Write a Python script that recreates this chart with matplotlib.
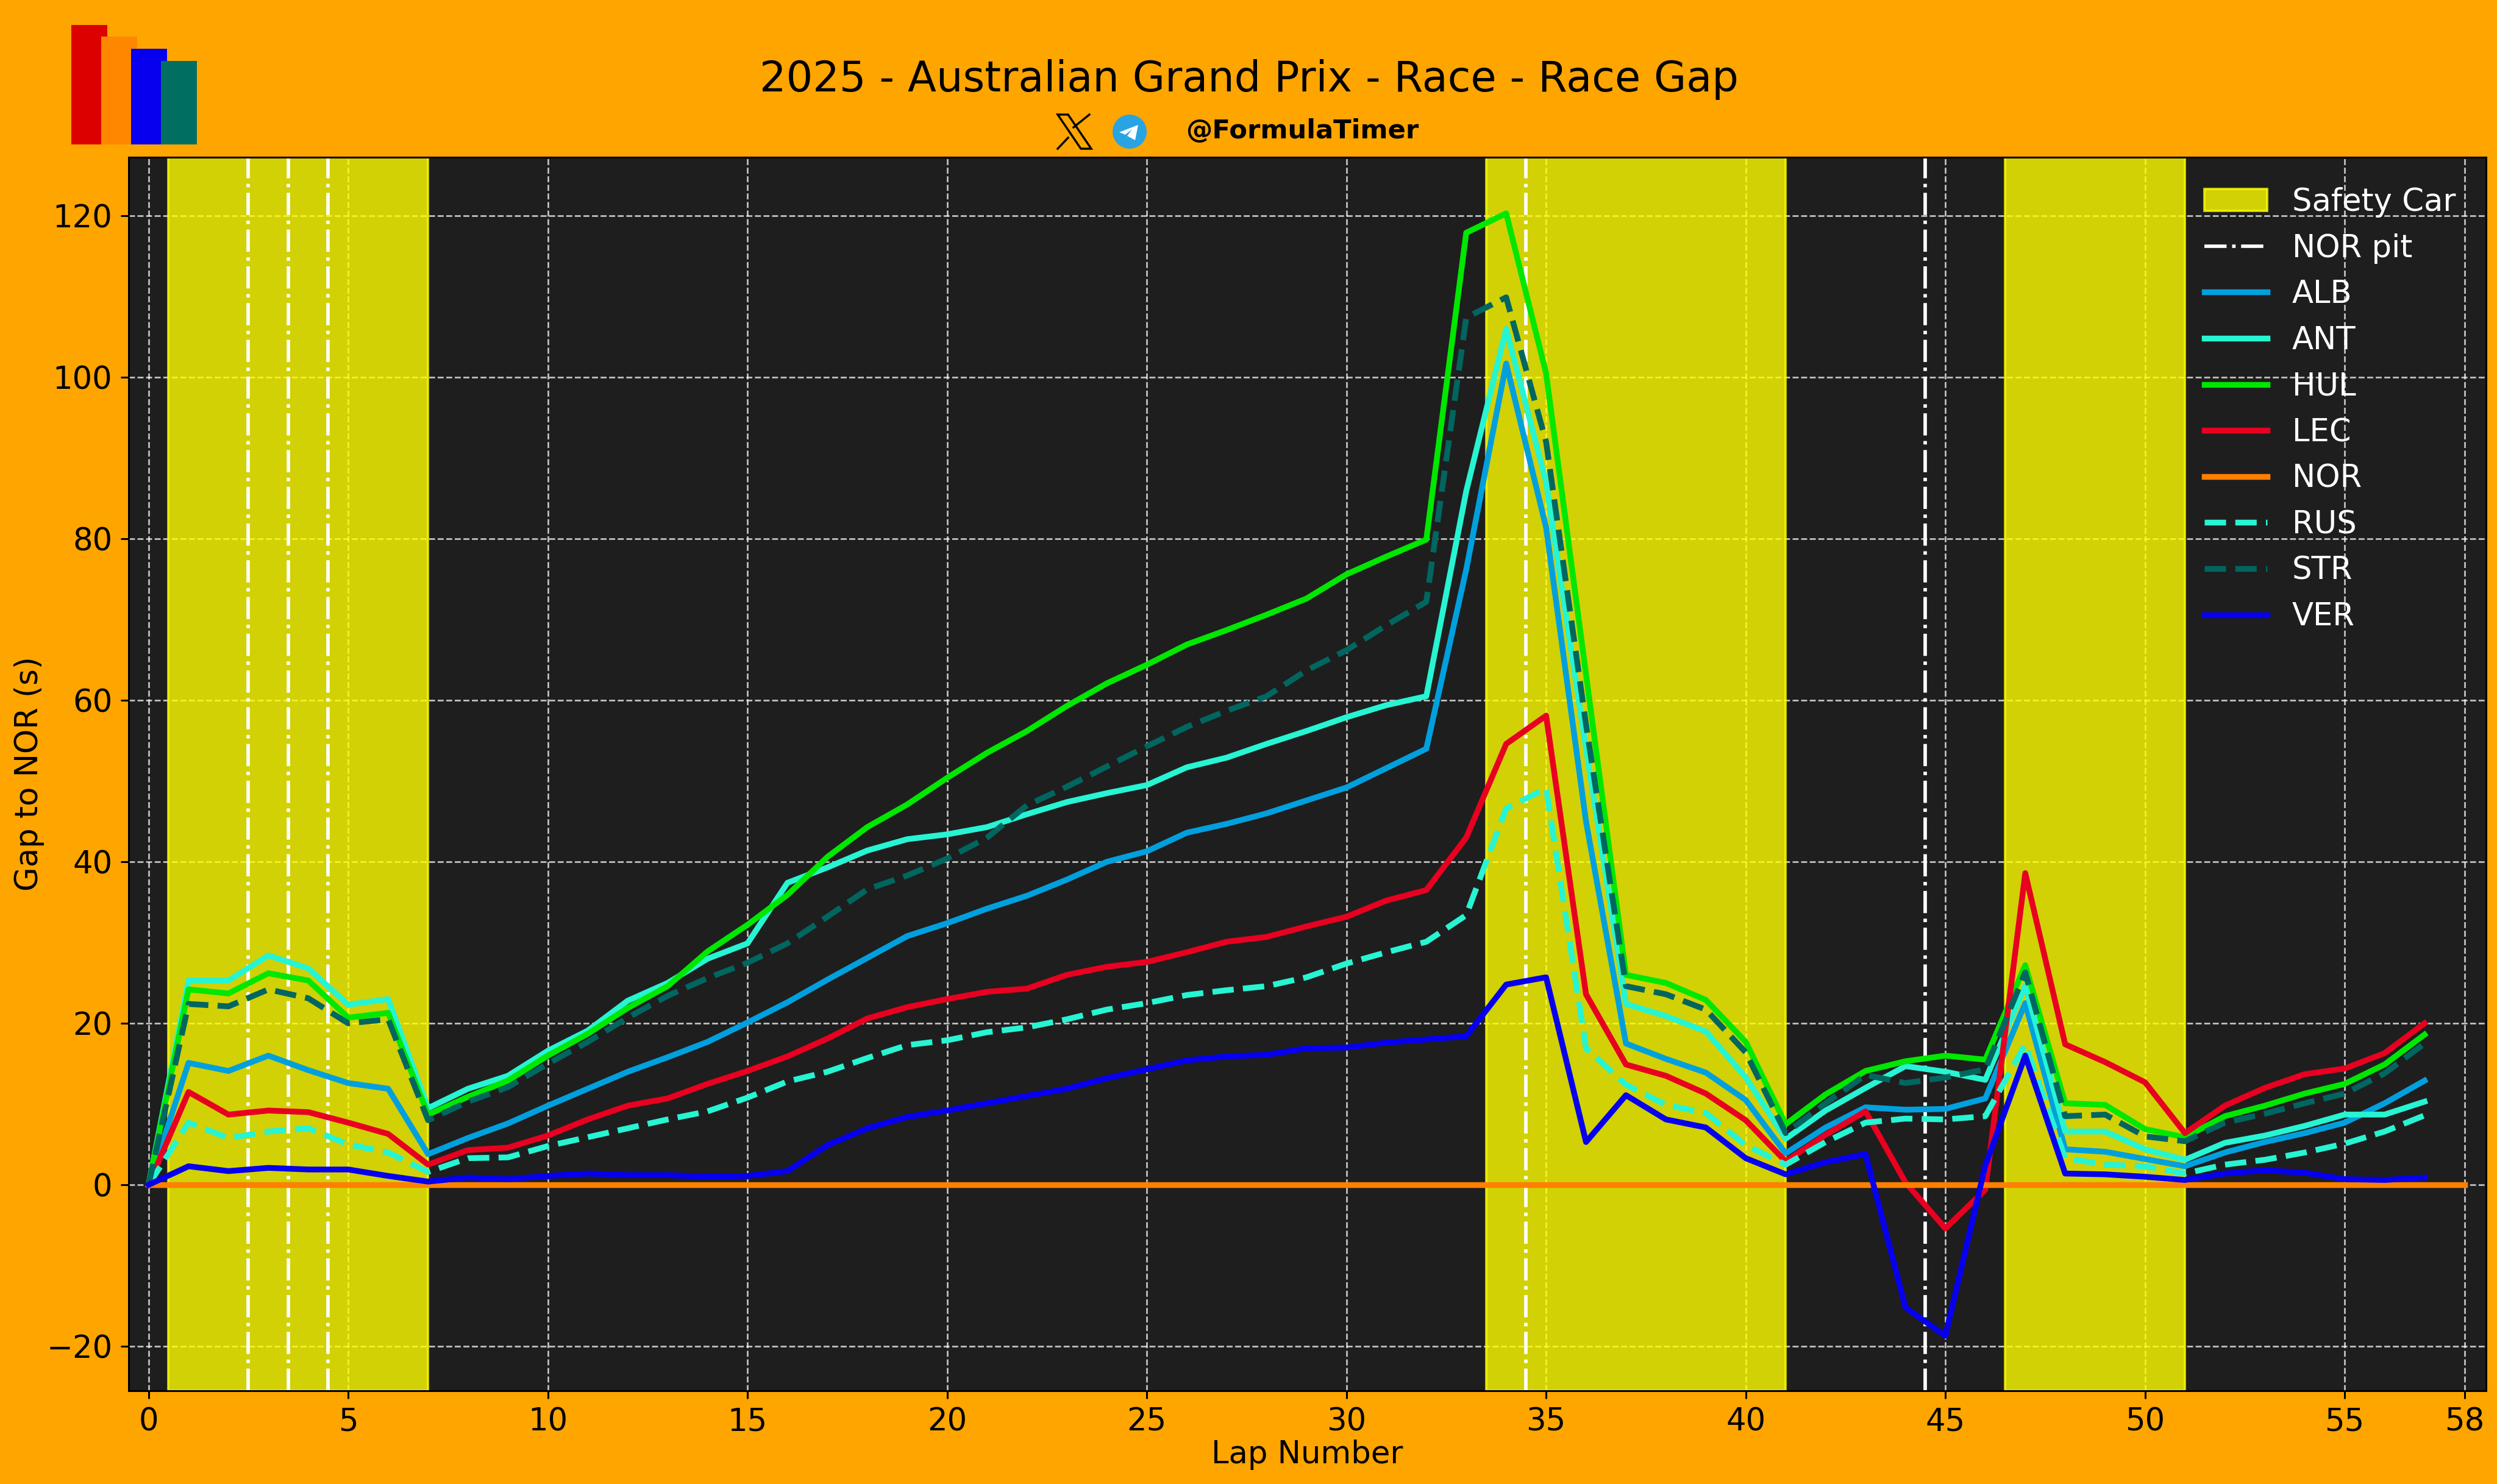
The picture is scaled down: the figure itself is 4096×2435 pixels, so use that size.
import numpy as np
import matplotlib
matplotlib.use('Agg')
import matplotlib.pyplot as plt
from matplotlib.patches import Rectangle, Polygon, Circle

laps = np.arange(58)
nor_laps = np.arange(59)

# Gap to NOR per lap
alb = [0, 15.1, 14.1, 16.0, 14.2, 12.6, 11.9, 3.8, 5.8, 7.6,
       9.8, 11.9, 14.0, 15.8, 17.7, 20.1, 22.6, 25.4, 28.1, 30.8,
       32.4, 34.2, 35.8, 37.8, 40.0, 41.3, 43.6, 44.7, 46.0, 47.6,
       49.2, 51.6, 54.0, 76.2, 101.7, 81.4, 45.0, 17.5, 15.6, 13.9,
       10.5, 3.9, 7.1, 9.6, 9.3, 9.4, 10.7, 22.5, 4.4, 4.1,
       3.2, 2.3, 4.0, 5.3, 6.4, 7.7, 10.1, 12.9]
ant = [0, 25.3, 25.3, 28.4, 26.8, 22.3, 23.0, 9.5, 11.9, 13.5,
       16.6, 19.1, 22.8, 25.0, 28.0, 29.9, 37.4, 39.3, 41.4, 42.8,
       43.4, 44.3, 45.9, 47.4, 48.5, 49.5, 51.7, 52.9, 54.6, 56.2,
       57.9, 59.4, 60.5, 85.9, 106.0, 87.0, 54.0, 22.4, 20.9, 19.0,
       13.3, 5.7, 9.2, 12.0, 14.7, 14.0, 13.0, 24.7, 6.6, 6.6,
       4.4, 3.1, 5.2, 6.1, 7.3, 8.7, 8.7, 10.3]
hul = [0, 24.2, 23.7, 26.2, 25.3, 20.7, 21.3, 8.7, 10.9, 12.9,
       16.0, 18.7, 21.9, 24.6, 28.9, 32.2, 35.9, 40.6, 44.3, 47.1,
       50.4, 53.5, 56.2, 59.3, 62.1, 64.4, 66.9, 68.7, 70.6, 72.6,
       75.6, 77.8, 79.9, 117.9, 120.3, 100.5, 63.2, 26.0, 25.0, 22.9,
       17.7, 7.5, 11.2, 14.1, 15.3, 16.0, 15.5, 27.2, 10.1, 9.9,
       6.9, 5.9, 8.5, 9.8, 11.3, 12.5, 14.9, 18.6]
lec = [0, 11.5, 8.7, 9.2, 9.0, 7.7, 6.3, 2.5, 4.3, 4.6,
       6.1, 8.1, 9.8, 10.7, 12.5, 14.1, 15.9, 18.1, 20.6, 22.0,
       23.0, 23.9, 24.3, 26.0, 27.0, 27.6, 28.8, 30.1, 30.7, 32.0,
       33.2, 35.2, 36.5, 43.0, 54.6, 58.1, 23.6, 14.9, 13.5, 11.3,
       8.0, 2.9, 6.2, 9.1, 0.3, -5.4, -0.6, 38.6, 17.4, 15.2,
       12.7, 6.4, 9.8, 12.0, 13.7, 14.4, 16.3, 20.0]
nor = [0] * 59
rus = [0, 7.7, 5.8, 6.6, 7.0, 5.0, 4.0, 1.6, 3.3, 3.4,
       4.8, 5.9, 7.0, 8.1, 9.1, 10.8, 12.8, 14.0, 15.7, 17.3,
       17.9, 18.9, 19.5, 20.5, 21.7, 22.5, 23.5, 24.1, 24.6, 25.7,
       27.4, 28.8, 30.1, 33.4, 46.6, 49.1, 16.9, 12.4, 9.9, 8.9,
       4.9, 2.5, 5.3, 7.7, 8.2, 8.1, 8.5, 17.4, 3.3, 2.5,
       2.3, 1.4, 2.5, 3.1, 4.0, 5.1, 6.6, 8.6]
str_ = [0, 22.4, 22.1, 24.2, 23.1, 20.0, 20.5, 8.0, 10.3, 12.1,
        15.0, 17.7, 20.7, 23.4, 25.6, 27.5, 29.9, 33.2, 36.6, 38.3,
        40.4, 43.0, 47.0, 49.3, 51.8, 54.3, 56.7, 58.7, 60.5, 63.7,
        66.2, 69.3, 72.2, 107.4, 109.9, 92.0, 57.0, 24.6, 23.6, 21.7,
        16.4, 6.4, 10.1, 13.6, 12.6, 13.3, 14.3, 26.3, 8.5, 8.7,
        6.0, 5.4, 7.7, 8.8, 10.1, 11.3, 13.8, 17.5]
ver = [0, 2.3, 1.7, 2.1, 1.9, 1.9, 1.1, 0.4, 0.9, 0.7,
       1.1, 1.4, 1.2, 1.2, 1.0, 1.1, 1.7, 4.9, 7.0, 8.4,
       9.2, 10.1, 11.0, 11.9, 13.2, 14.3, 15.4, 15.9, 16.1, 16.9,
       17.0, 17.6, 18.0, 18.4, 24.8, 25.7, 5.3, 11.1, 8.1, 7.1,
       3.3, 1.3, 2.8, 3.8, -15.2, -18.7, 2.4, 16.0, 1.4, 1.3,
       1.0, 0.6, 1.4, 1.8, 1.5, 0.7, 0.6, 0.9]

safety_car = [(0.5, 7), (33.5, 41), (46.5, 51)]
nor_pits = [2.5, 3.5, 4.5, 34.5, 44.5]
x_ticks = [0, 5, 10, 15, 20, 25, 30, 35, 40, 45, 50, 55, 58]
y_ticks = [-20, 0, 20, 40, 60, 80, 100, 120]

W, H = 4096, 2435
DPI = 273
fig = plt.figure(figsize=(W / DPI, H / DPI), dpi=DPI, facecolor='#FFA500')

# Main axes, placed in pixels
left, right, top, bottom = 211, 4078, 258, 2282
ax = fig.add_axes([left / W, 1 - bottom / H, (right - left) / W, (bottom - top) / H])
ax.set_facecolor('#1E1E1E')
ax.set_axisbelow(True)
ax.grid(True, color='white', linestyle='--', linewidth=0.7, alpha=0.75)

for i, (start, end) in enumerate(safety_car):
    ax.axvspan(start, end, color='yellow', alpha=0.8, zorder=1.5,
               label='Safety Car' if i == 0 else None)
for i, lap in enumerate(nor_pits):
    ax.axvline(lap, color='white', linestyle='-.', linewidth=1.5, zorder=1.8,
               label='NOR pit' if i == 0 else None)

ax.plot(laps, alb, color='#00A0DE', linewidth=2.5, label='ALB')
ax.plot(laps, ant, color='#27F4D2', linewidth=2.5, label='ANT')
ax.plot(laps, hul, color='#00E700', linewidth=2.5, label='HUL')
ax.plot(laps, lec, color='#E80020', linewidth=2.5, label='LEC')
ax.plot(nor_laps, nor, color='#FF8000', linewidth=2.5, label='NOR')
ax.plot(laps, rus, color='#27F4D2', linewidth=2.5, linestyle='--', label='RUS')
ax.plot(laps, str_, color='#00665F', linewidth=2.5, linestyle='--', label='STR')
ax.plot(laps, ver, color='#0600EF', linewidth=2.5, label='VER')

ax.set_xlim(-0.5, 58.54)
ax.set_ylim(-25.5, 127.25)
ax.set_xticks(x_ticks)
ax.set_yticks(y_ticks)
ax.tick_params(labelsize=13.5, colors='black')
ax.set_xlabel('Lap Number', fontsize=13.5, labelpad=1)
ax.set_ylabel('Gap to NOR (s)', fontsize=13.5, labelpad=1)

legend = ax.legend(loc='upper right', bbox_to_anchor=(0.999, 0.9985), fontsize=13.5,
                   frameon=False, labelcolor='white')

# Header drawn on a full-figure overlay in pixel coordinates
overlay = fig.add_axes([0, 0, 1, 1], zorder=-1)
overlay.set_xlim(0, W)
overlay.set_ylim(H, 0)
overlay.axis('off')

# Logo bars
for x0, x1, y0, c in [(117, 176, 41, '#DC0000'), (166, 225, 60, '#FF8700'),
                      (215, 274, 80, '#0600EF'), (264, 323, 100, '#006F62')]:
    overlay.add_patch(Rectangle((x0, y0), x1 - x0, 237 - y0, facecolor=c, edgecolor='none'))

overlay.text(2049, 150, '2025 - Australian Grand Prix - Race - Race Gap', fontsize=18.1,
             ha='center', va='baseline', color='black')

# X icon
overlay.add_patch(Polygon([(1735, 188), (1752, 188), (1790, 244), (1773, 244)],
                          closed=True, fill=False, edgecolor='black', linewidth=0.9))
overlay.plot([1787, 1761], [188, 209], color='black', linewidth=0.9)
overlay.plot([1752, 1735], [226, 244], color='black', linewidth=0.9)

# Telegram icon
overlay.add_patch(Circle((1853, 216), 28, facecolor='#28A4E2', edgecolor='none'))
overlay.add_patch(Polygon([(1867, 205), (1836, 217), (1846, 221), (1857, 212), (1849, 223), (1862, 230)],
                          closed=True, facecolor='white', edgecolor='none'))

overlay.text(1945, 215, '@FormulaTimer', fontsize=11.4, fontweight='bold',
             ha='left', va='center', color='black')

plt.savefig('out.png', dpi=DPI, facecolor=fig.get_facecolor())
